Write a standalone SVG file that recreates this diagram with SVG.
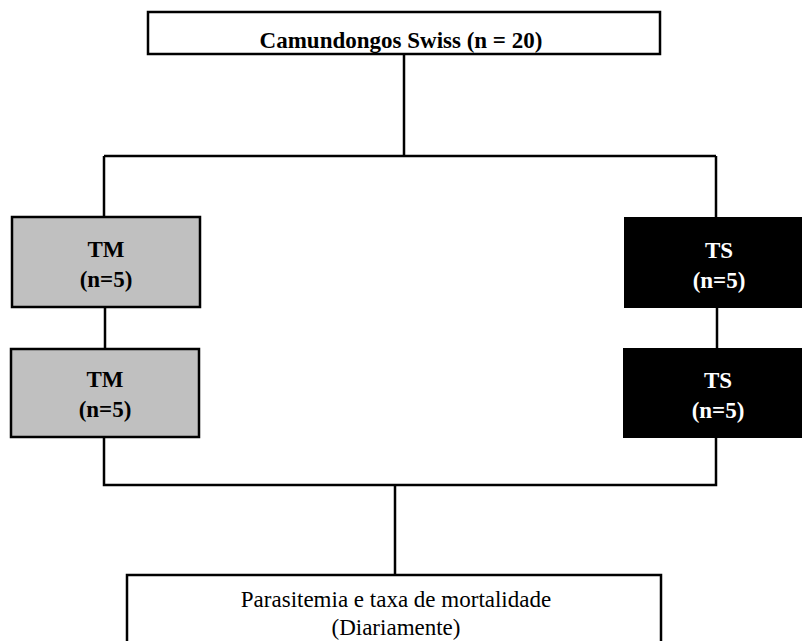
<svg xmlns="http://www.w3.org/2000/svg" width="802" height="641" viewBox="0 0 802 641">
<style>
.box{stroke:#000;stroke-width:2.5}
.w{fill:#fff}
.g{fill:#c0c0c0}
.k{fill:#000}
.t{font-family:"Liberation Serif","Times New Roman",serif;font-size:23px;text-anchor:middle}
.b{font-weight:bold}
.line{stroke:#000;stroke-width:2.5;fill:none}
</style>
<rect width="802" height="641" fill="#fff"/>
<g id="connectors">
<path class="line" d="M404 54 V156 M104 156 H716 M104 156 V217 M716 156 V217 M105 307 V349 M717 308 V348 M104 437 V485 H716 V437 M395 485 V575"/>
</g>
<g id="top">
<rect class="box w" x="148" y="12" width="512" height="42"/>
<text class="t b" x="401" y="48">Camundongos Swiss (n = 20)</text>
</g>
<g id="tm1">
<rect class="box g" x="12" y="217" width="188" height="90"/>
<text class="t b" x="106" y="257">TM</text>
<text class="t b" x="106" y="287">(n=5)</text>
</g>
<g id="tm2">
<rect class="box g" x="11" y="349" width="188" height="88"/>
<text class="t b" x="105" y="387">TM</text>
<text class="t b" x="105" y="417">(n=5)</text>
</g>
<g id="ts1">
<rect class="k" x="624" y="217" width="178" height="91"/>
<text class="t b" x="719" y="258" fill="#fff">TS</text>
<text class="t b" x="719" y="288" fill="#fff">(n=5)</text>
</g>
<g id="ts2">
<rect class="k" x="623" y="348" width="179" height="90"/>
<text class="t b" x="718" y="388" fill="#fff">TS</text>
<text class="t b" x="718" y="418" fill="#fff">(n=5)</text>
</g>
<g id="bottom">
<rect class="box w" x="127" y="575" width="534" height="80"/>
<text class="t" x="396" y="607">Parasitemia e taxa de mortalidade</text>
<text class="t" x="396" y="635">(Diariamente)</text>
</g>
</svg>
